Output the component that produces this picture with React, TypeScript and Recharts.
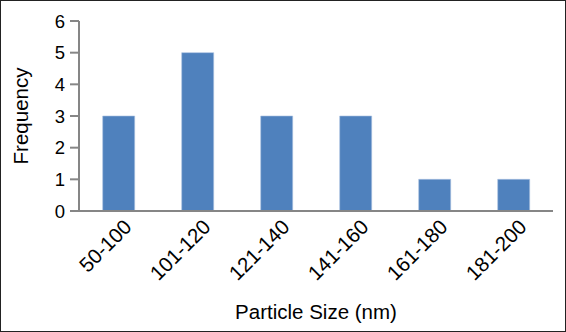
import { BarChart, Bar, XAxis, YAxis, Label } from "recharts";

const sizeRanges = ["50-100", "101-120", "121-140", "141-160", "161-180", "181-200"];
const frequencies = [3, 5, 3, 3, 1, 1];
const yTicks = [0, 1, 2, 3, 4, 5, 6];

const data = sizeRanges.map((range, i) => ({ range, count: frequencies[i] }));

const AXIS = "#868686";
const FONT = "'Liberation Sans', Arial, sans-serif";

export default function App() {
  return (
    <div
      style={{
        position: "absolute",
        left: 0,
        top: 0,
        width: 566,
        height: 332,
        boxSizing: "border-box",
        border: "1.5px solid #222",
        background: "#fff",
        fontFamily: FONT,
      }}
    >
      <BarChart
        width={563}
        height={329}
        data={data}
        barCategoryGap="30%"
        margin={{ top: 20, right: 11, bottom: 0, left: 0 }}
        style={{ position: "absolute", left: 0, top: 0 }}
      >
        <XAxis
          dataKey="range"
          height={119}
          interval={0}
          tickLine={false}
          stroke={AXIS}
          strokeWidth={2}
          angle={-45}
          textAnchor="end"
          tick={{ fontSize: 20.5, fill: "#000", fontFamily: FONT, dx: 4 }}
          tickMargin={1}
        >
          <Label
            value="Particle Size (nm)"
            position="insideBottom"
            offset={11}
            style={{ fontSize: 20.5, fill: "#000", fontFamily: FONT }}
          />
        </XAxis>
        <YAxis
          domain={[0, 6]}
          ticks={yTicks}
          width={78}
          tickSize={9}
          tickMargin={5}
          stroke={AXIS}
          strokeWidth={2}
          tick={{ fontSize: 18.5, fill: "#000", fontFamily: FONT }}
        >
          <Label
            value="Frequency"
            angle={-90}
            position="insideLeft"
            offset={20}
            style={{ fontSize: 20.5, fill: "#000", fontFamily: FONT, textAnchor: "middle" }}
          />
        </YAxis>
        <Bar
          dataKey="count"
          fill="#4f81bd"
          stroke="#a9c1e0"
          strokeWidth={0.6}
          isAnimationActive={false}
        />
      </BarChart>
    </div>
  );
}
